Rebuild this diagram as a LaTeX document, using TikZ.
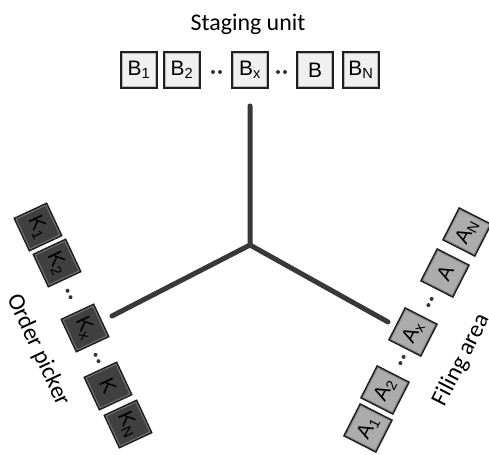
\documentclass[tikz,border=0pt]{standalone}
\usepackage{fontspec}
\setmainfont{Carlito}
\newfontfamily\boxfont{Liberation Sans}
\begin{document}
\begin{tikzpicture}[x=1bp,y=-1bp,
  spoke/.style={line width=5bp, draw=black!78, line cap=round},
  bbox/.style={minimum size=33bp, inner sep=0pt,
    preaction={draw=black!88, line width=4.2bp},
    draw=gray!55, line width=1bp, fill=gray!12,
    font=\boxfont\fontsize{21}{21}\selectfont},
  kbox/.style={bbox, fill=black!75, draw=black!55, rotate=-65},
  abox/.style={bbox, fill=gray!65, draw=black!45, rotate=63},
  lbl/.style={font=\fontsize{24}{28}\selectfont, inner sep=0pt},
  dot/.style={circle, fill=black!80, inner sep=0pt, minimum size=4bp}]
\useasboundingbox (0,0) rectangle (489,455);

% hub and spokes
\coordinate (c) at (250,245);
\coordinate (ts) at (250,106);
\coordinate (ls) at (112,316);
\coordinate (rs) at (388,322);
\draw[spoke] (ts) -- (c) -- (ls);
\draw[spoke] (c) -- (rs);

% staging unit
\node[lbl] (stg) at (248,24) {Staging unit};
\node[bbox] (b1) at (139,70) {B\textsubscript{1}};
\node[bbox] (b2) at (182,70) {B\textsubscript{2}};
\node[bbox] (bx) at (250,70) {B\textsubscript{x}};
\node[bbox] (bb) at (315,70) {B};
\node[bbox] (bn) at (361,70) {B\textsubscript{N}};
\node[dot] (bd1) at (213,72) {};
\node[dot] (bd2) at (220,72) {};
\node[dot] (bd3) at (278,72) {};
\node[dot] (bd4) at (285,72) {};

% order picker
\node[lbl, rotate=-65] (opk) at (38,350) {Order picker};
\node[kbox] (k1) at (38,227) {K\textsubscript{1}};
\node[kbox] (k2) at (57,263) {K\textsubscript{2}};
\node[kbox] (kx) at (85,328) {K\textsubscript{x}};
\node[kbox] (kk) at (108,386) {K};
\node[kbox] (kn) at (128,424) {K\textsubscript{N}};
\node[dot] (kd1) at (67.5,290.8) {};
\node[dot] (kd2) at (70.5,297.2) {};
\node[dot] (kd3) at (95.5,354.8) {};
\node[dot] (kd4) at (98.5,361.2) {};

% filing area
\node[lbl, rotate=63] (fil) at (462,360) {Filing area};
\node[abox] (a1) at (368,428) {A\textsubscript{1}};
\node[abox] (a2) at (385,390) {A\textsubscript{2}};
\node[abox] (ax) at (413,332) {A\textsubscript{x}};
\node[abox] (aa) at (445,273) {A};
\node[abox] (an) at (467,232) {A\textsubscript{N}};
\node[dot] (ad1) at (400.4,363.1) {};
\node[dot] (ad2) at (403.6,356.9) {};
\node[dot] (ad3) at (428.4,305.1) {};
\node[dot] (ad4) at (431.6,298.9) {};
\end{tikzpicture}
\end{document}
